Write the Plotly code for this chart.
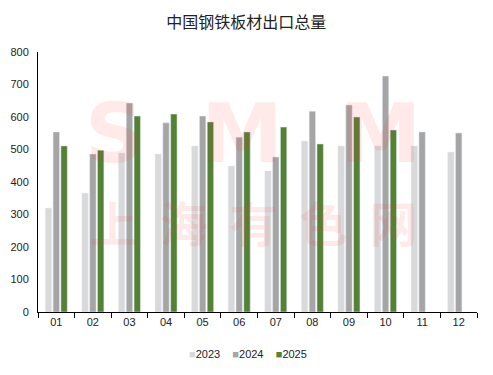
import plotly.graph_objects as go

months = ["01", "02", "03", "04", "05", "06", "07", "08", "09", "10", "11", "12"]
series_names = ["2023", "2024", "2025"]
series_colors = ["#D9D9D9", "#A5A5A5", "#548235"]
y2023 = [320, 366, 489, 486, 511, 449, 434, 526, 511, 511, 511, 492]
y2024 = [554, 486, 643, 582, 603, 538, 477, 618, 637, 726, 554, 551]
y2025 = [511, 498, 603, 609, 585, 554, 569, 517, 600, 560, None, None]
y_ticks = [0, 100, 200, 300, 400, 500, 600, 700, 800]

fig = go.Figure()
for name, color, vals in zip(series_names, series_colors, [y2023, y2024, y2025]):
    fig.add_trace(go.Bar(name=name, x=months, y=vals, marker_color=color, showlegend=False))

# watermark
wm_color = "rgba(255,40,40,0.10)"
fig.add_annotation(text="<b>S&nbsp;&nbsp;M&nbsp;&nbsp;M</b>", xref="paper", yref="paper",
                   x=0.49, y=0.685, xanchor="center", yanchor="middle", showarrow=False,
                   font=dict(size=82, color=wm_color, family="DejaVu Sans"))
fig.add_annotation(text="<b>上&nbsp;&nbsp;海&nbsp;&nbsp;有&nbsp;&nbsp;色&nbsp;&nbsp;网</b>", xref="paper", yref="paper",
                   x=0.49, y=0.35, xanchor="center", yanchor="middle", showarrow=False,
                   font=dict(size=48, color=wm_color, family="Noto Sans CJK SC"))

# legend (compact, like the reference)
legend_text = "&nbsp;&nbsp;&nbsp;&nbsp;".join(
    f"<span style='color:{c}'>■</span>{n}" for n, c in zip(series_names, series_colors))
fig.add_annotation(text=legend_text, xref="paper", yref="paper", x=0.478, y=-0.1615,
                   xanchor="center", yanchor="middle", showarrow=False,
                   font=dict(size=11, color="#222", family="Liberation Sans"))

fig.update_layout(
    width=485, height=367,
    margin=dict(l=30, r=16, t=44, b=63),
    paper_bgcolor="white", plot_bgcolor="white",
    title=dict(text="中国钢铁板材出口总量", x=0.491, xanchor="center", y=0.962, yanchor="middle",
               font=dict(family="Noto Sans CJK SC", size=16, color="#222")),
    barmode="group", bargap=0.36, bargroupgap=0.18,
    font=dict(family="Liberation Sans", size=11, color="#222"),
    showlegend=False,
    xaxis=dict(showline=True, linecolor="black", linewidth=1, ticks="outside", ticklen=5,
               tickcolor="black", tickson="boundaries", showgrid=False, automargin=False),
    yaxis=dict(range=[0, 800], tickvals=y_ticks, showline=True, linecolor="black", linewidth=1,
               showgrid=False, zeroline=False, ticks="", ticklabelstandoff=6, automargin=False),
)

fig.write_html("out.html")
